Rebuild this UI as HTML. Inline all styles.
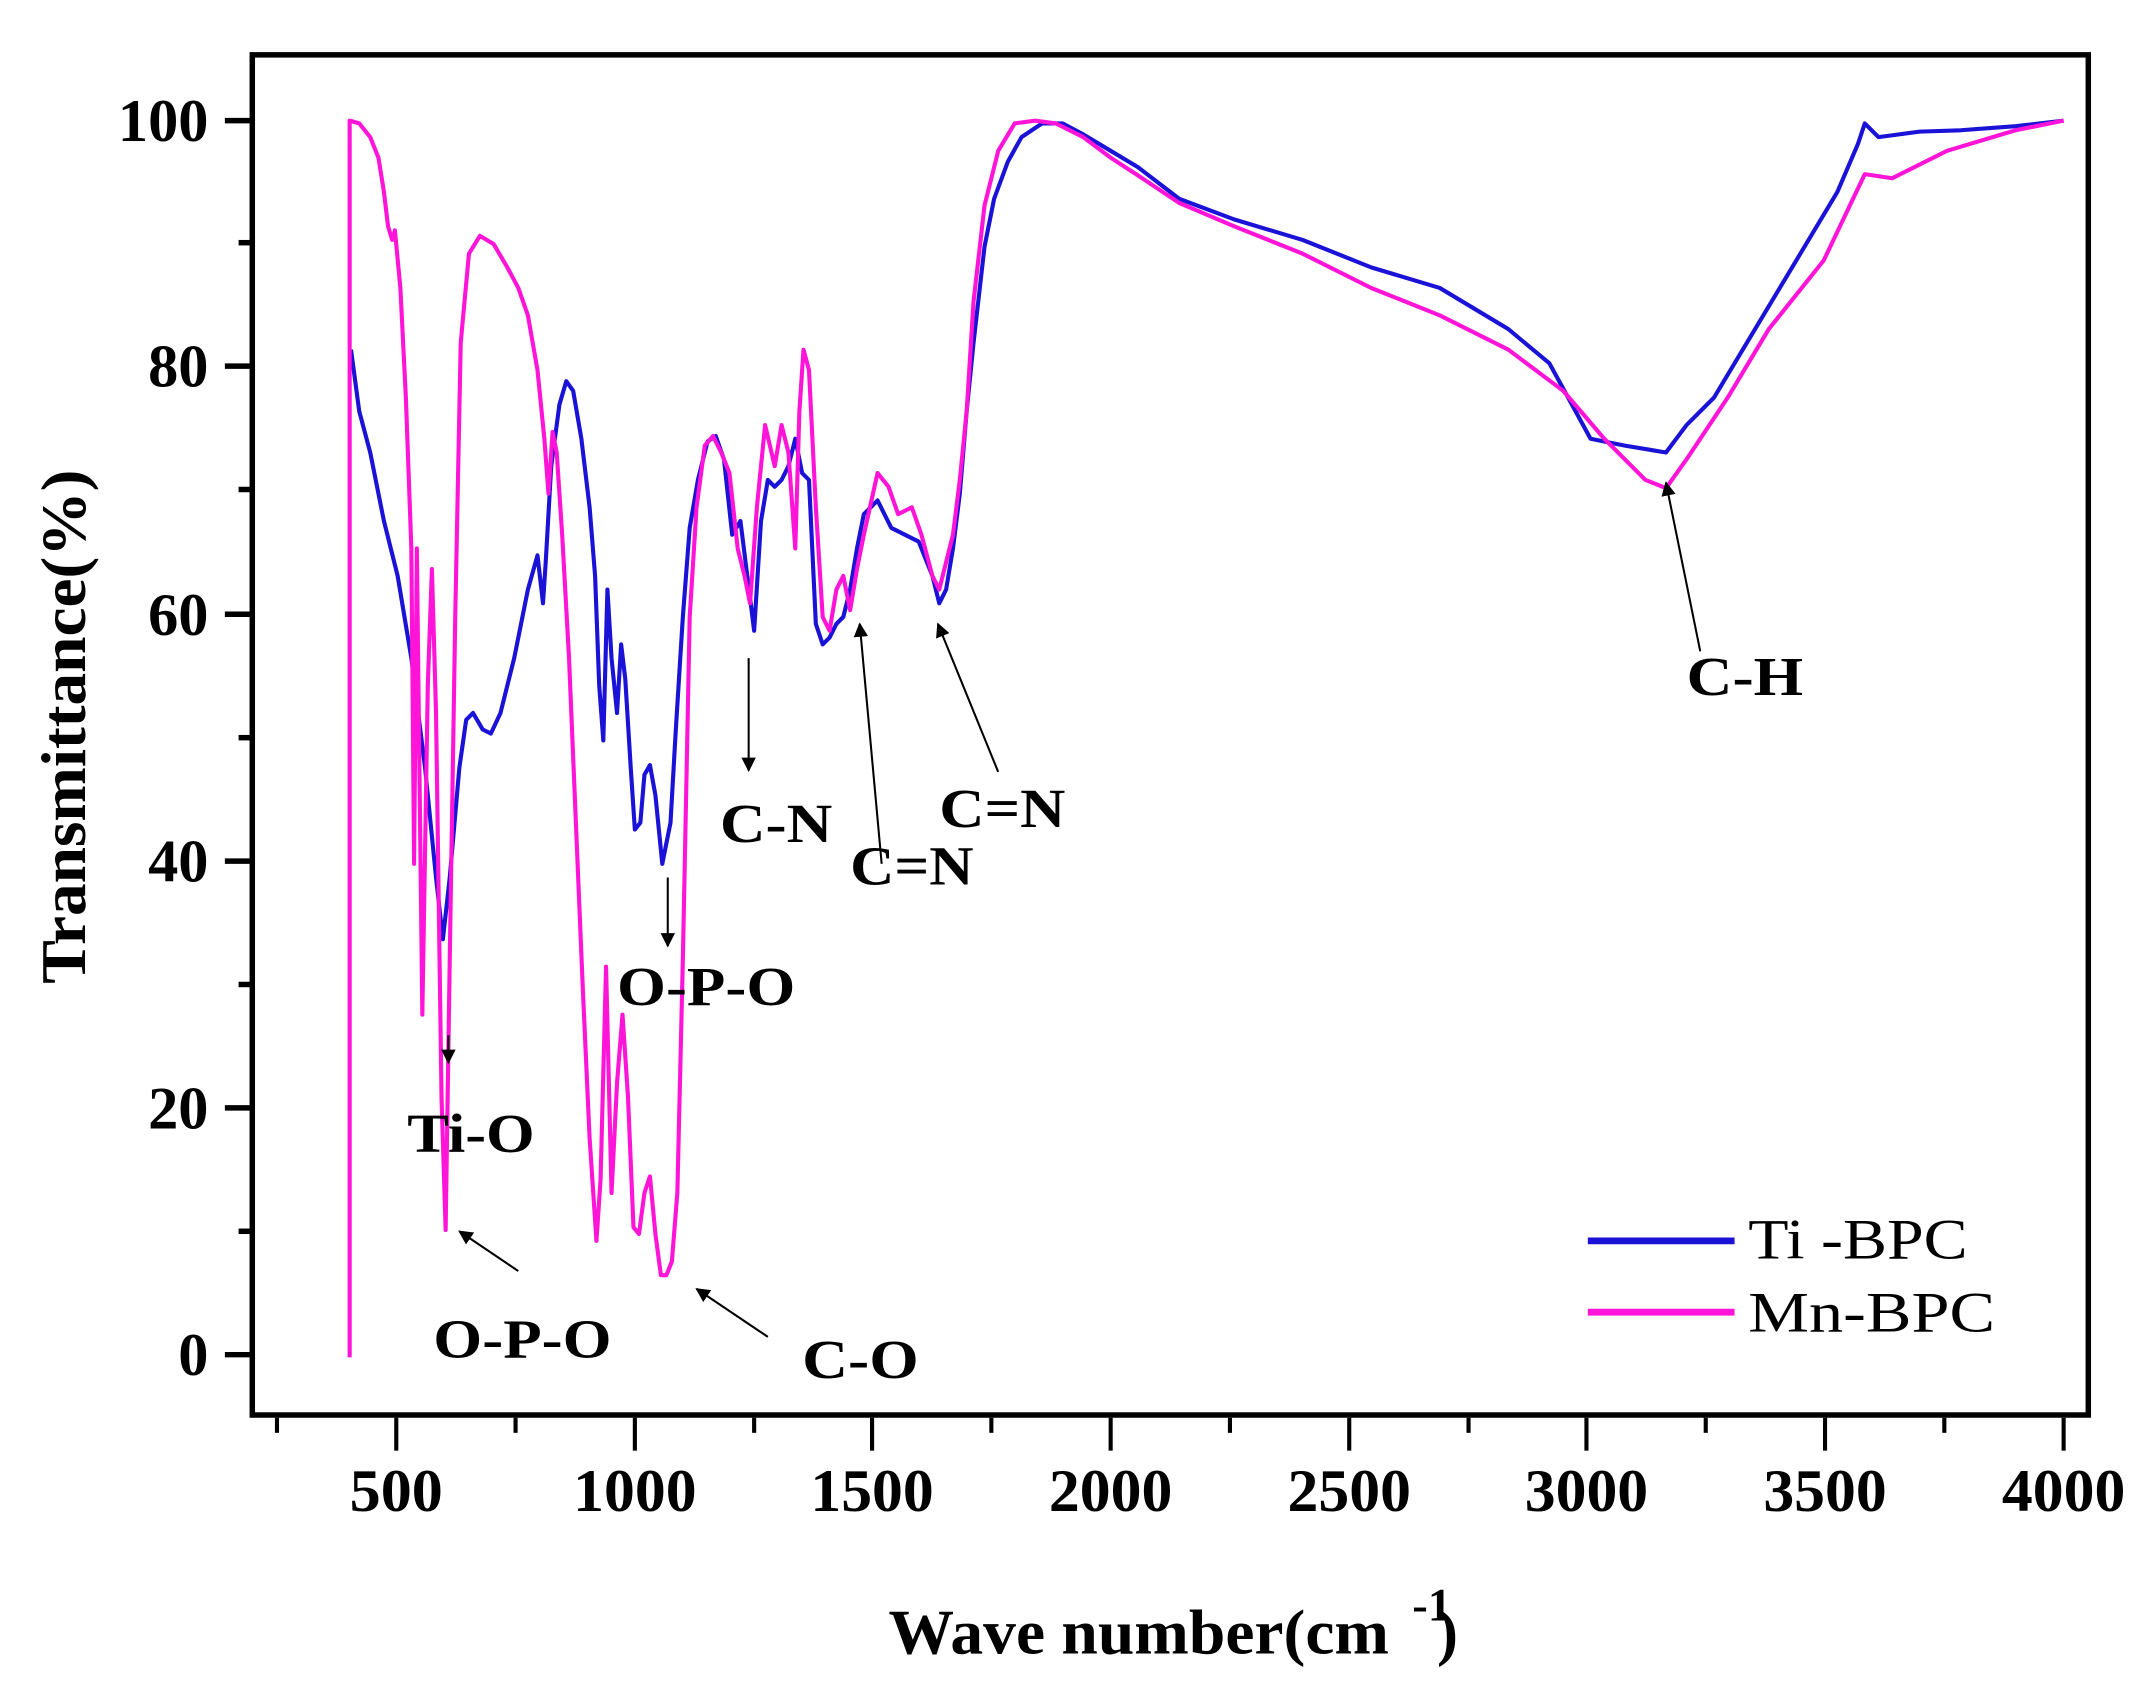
<!DOCTYPE html>
<html><head><meta charset="utf-8"><style>html,body{margin:0;padding:0;background:#fff}svg{display:block}</style></head>
<body>
<svg width="2150" height="1695" viewBox="0 0 1568 1236.2" preserveAspectRatio="none" xmlns="http://www.w3.org/2000/svg" font-family="'Liberation Serif', serif">
<rect x="0" y="0" width="1568" height="1236.2" fill="#fff"/>
<polyline fill="none" stroke="#1a12d6" stroke-width="3" stroke-linejoin="round" points="256,255 262,300 270,330 280,380 290,420 300,480 310,560 318,640 323,685 328,640 335,560 340,525 345,520 352,532 358,535 365,520 375,480 385,430 392,405 396,440 398,410 402,340 408,295 413,278 418,285 424,320 430,370 434,420 437,500 440,540 443,430 446,480 450,520 453,470 456,495 460,560 463,605 467,600 470,565 474,558 478,580 483,630 489,600 493,530 498,450 503,385 509,350 516,322 522,318 528,335 534,390 540,380 545,420 550,460 555,380 560,350 565,355 570,350 575,340 580,320 585,345 590,350 595,455 600,470 605,465 610,455 615,450 620,430 625,400 630,375 640,365 650,385 660,390 670,395 680,420 685,440 690,430 695,400 700,360 705,300 710,250 718,180 725,145 735,118 745,100 760,90 775,90 790,98 810,110 830,122 860,145 900,160 950,175 1000,195 1050,210 1100,240 1130,265 1160,320 1185,325 1215,330 1230,310 1250,290 1280,240 1310,190 1340,140 1355,105 1360,90 1370,100 1385,98 1400,96 1430,95 1470,92 1505,88"/>
<polyline fill="none" stroke="#ff14d8" stroke-width="3" stroke-linejoin="round" points="255,990 255,88 262,90 270,100 276,115 280,140 283,165 286,175 288,168 292,210 296,290 300,400 302,630 304,400 306,570 308,740 312,500 315,415 318,520 322,800 325,897 328,700 332,450 336,250 342,185 350,172 360,178 370,195 378,210 385,230 392,270 397,320 400,360 403,315 406,330 410,390 415,480 420,600 425,720 430,830 435,905 438,860 442,705 446,870 450,790 454,740 458,800 462,895 466,900 470,870 474,858 478,900 482,930 486,930 490,920 494,870 498,700 503,450 508,370 514,325 520,318 526,330 532,345 538,400 543,420 547,440 552,370 558,310 565,340 570,310 575,330 580,400 583,300 586,255 590,270 595,370 600,450 605,460 610,430 615,420 620,445 625,415 630,390 640,345 648,355 655,375 665,370 672,390 680,420 685,430 690,410 695,390 700,350 705,300 710,220 718,150 728,110 740,90 755,88 770,90 790,100 810,115 830,128 860,148 900,165 950,185 1000,210 1050,230 1100,255 1140,285 1170,320 1200,350 1215,356 1230,335 1260,290 1290,240 1330,190 1360,127 1380,130 1390,125 1420,110 1470,95 1505,88"/>
<rect x="184" y="40" width="1339" height="992" fill="none" stroke="#000" stroke-width="4"/>
<g stroke="#000" stroke-width="4">
<line x1="164" y1="988" x2="184" y2="988"/><line x1="164" y1="808" x2="184" y2="808"/><line x1="164" y1="628" x2="184" y2="628"/><line x1="164" y1="448" x2="184" y2="448"/><line x1="164" y1="267" x2="184" y2="267"/><line x1="164" y1="88" x2="184" y2="88"/>
<line x1="174" y1="898" x2="184" y2="898"/><line x1="174" y1="718" x2="184" y2="718"/><line x1="174" y1="538" x2="184" y2="538"/><line x1="174" y1="357" x2="184" y2="357"/><line x1="174" y1="177" x2="184" y2="177"/>
</g>
<g stroke="#000" stroke-width="3">
<line x1="202" y1="1034" x2="202" y2="1045"/><line x1="289" y1="1034" x2="289" y2="1058"/><line x1="376" y1="1034" x2="376" y2="1045"/><line x1="463" y1="1034" x2="463" y2="1058"/><line x1="550" y1="1034" x2="550" y2="1045"/><line x1="636" y1="1034" x2="636" y2="1058"/><line x1="723" y1="1034" x2="723" y2="1045"/><line x1="810" y1="1034" x2="810" y2="1058"/><line x1="897" y1="1034" x2="897" y2="1045"/><line x1="984" y1="1034" x2="984" y2="1058"/><line x1="1071" y1="1034" x2="1071" y2="1045"/><line x1="1157" y1="1034" x2="1157" y2="1058"/><line x1="1244" y1="1034" x2="1244" y2="1045"/><line x1="1331" y1="1034" x2="1331" y2="1058"/><line x1="1418" y1="1034" x2="1418" y2="1045"/><line x1="1505" y1="1034" x2="1505" y2="1058"/>
</g>
<g font-weight="bold" font-size="44" text-anchor="end">
<text x="152" y="1003" textLength="22" lengthAdjust="spacingAndGlyphs">0</text><text x="152" y="823" textLength="44" lengthAdjust="spacingAndGlyphs">20</text><text x="152" y="643" textLength="44" lengthAdjust="spacingAndGlyphs">40</text><text x="152" y="463" textLength="44" lengthAdjust="spacingAndGlyphs">60</text><text x="152" y="282" textLength="44" lengthAdjust="spacingAndGlyphs">80</text><text x="152" y="103" textLength="66" lengthAdjust="spacingAndGlyphs">100</text>
</g>
<g font-weight="bold" font-size="44" text-anchor="middle">
<text x="289" y="1102" textLength="68" lengthAdjust="spacingAndGlyphs">500</text><text x="463" y="1102" textLength="90" lengthAdjust="spacingAndGlyphs">1000</text><text x="636" y="1102" textLength="90" lengthAdjust="spacingAndGlyphs">1500</text><text x="810" y="1102" textLength="90" lengthAdjust="spacingAndGlyphs">2000</text><text x="984" y="1102" textLength="90" lengthAdjust="spacingAndGlyphs">2500</text><text x="1157" y="1102" textLength="90" lengthAdjust="spacingAndGlyphs">3000</text><text x="1331" y="1102" textLength="90" lengthAdjust="spacingAndGlyphs">3500</text><text x="1505" y="1102" textLength="90" lengthAdjust="spacingAndGlyphs">4000</text>
</g>
<text transform="translate(62,530) rotate(-90)" text-anchor="middle" font-weight="bold" font-size="46" textLength="375" lengthAdjust="spacingAndGlyphs">Transmittance(%)</text>
<text x="648" y="1206" font-weight="bold" font-size="46" textLength="365" lengthAdjust="spacingAndGlyphs">Wave number(cm</text><text x="1030" y="1182" font-weight="bold" font-size="34">-1</text><text x="1048" y="1206" font-weight="bold" font-size="46">)</text>
<line x1="1158" y1="905" x2="1265" y2="905" stroke="#1a12d6" stroke-width="5"/>
<line x1="1158" y1="957" x2="1265" y2="957" stroke="#ff14d8" stroke-width="5"/>
<text x="1275" y="918" font-size="42" textLength="160" lengthAdjust="spacingAndGlyphs">Ti -BPC</text>
<text x="1275" y="971" font-size="42" textLength="180" lengthAdjust="spacingAndGlyphs">Mn-BPC</text>
<defs><marker id="ah" viewBox="0 0 10 10" refX="9" refY="5" markerWidth="7" markerHeight="7" orient="auto"><path d="M0,0 L10,5 L0,10 z" fill="#000"/></marker></defs>
<g stroke="#000" stroke-width="1.5" marker-end="url(#ah)">
<line x1="327" y1="755" x2="327" y2="775"/>
<line x1="378" y1="927" x2="335" y2="898"/>
<line x1="560" y1="975" x2="508" y2="940"/>
<line x1="487" y1="640" x2="487" y2="690"/>
<line x1="546" y1="480" x2="546" y2="562"/>
<line x1="643" y1="630" x2="627" y2="455"/>
<line x1="728" y1="563" x2="684" y2="455"/>
<line x1="1240" y1="475" x2="1215" y2="352"/>
</g>
<g font-weight="bold" font-size="40">
<text x="297" y="840" textLength="93" lengthAdjust="spacingAndGlyphs">Ti-O</text>
<text x="316" y="990" textLength="130" lengthAdjust="spacingAndGlyphs">O-P-O</text>
<text x="585" y="1005" textLength="85" lengthAdjust="spacingAndGlyphs">C-O</text>
<text x="450" y="733" textLength="130" lengthAdjust="spacingAndGlyphs">O-P-O</text>
<text x="525" y="614" textLength="82" lengthAdjust="spacingAndGlyphs">C-N</text>
<text x="620" y="645" textLength="90" lengthAdjust="spacingAndGlyphs">C=N</text>
<text x="685" y="603" textLength="92" lengthAdjust="spacingAndGlyphs">C=N</text>
<text x="1230" y="507" textLength="85" lengthAdjust="spacingAndGlyphs">C-H</text>
</g>
</svg>
</body></html>
